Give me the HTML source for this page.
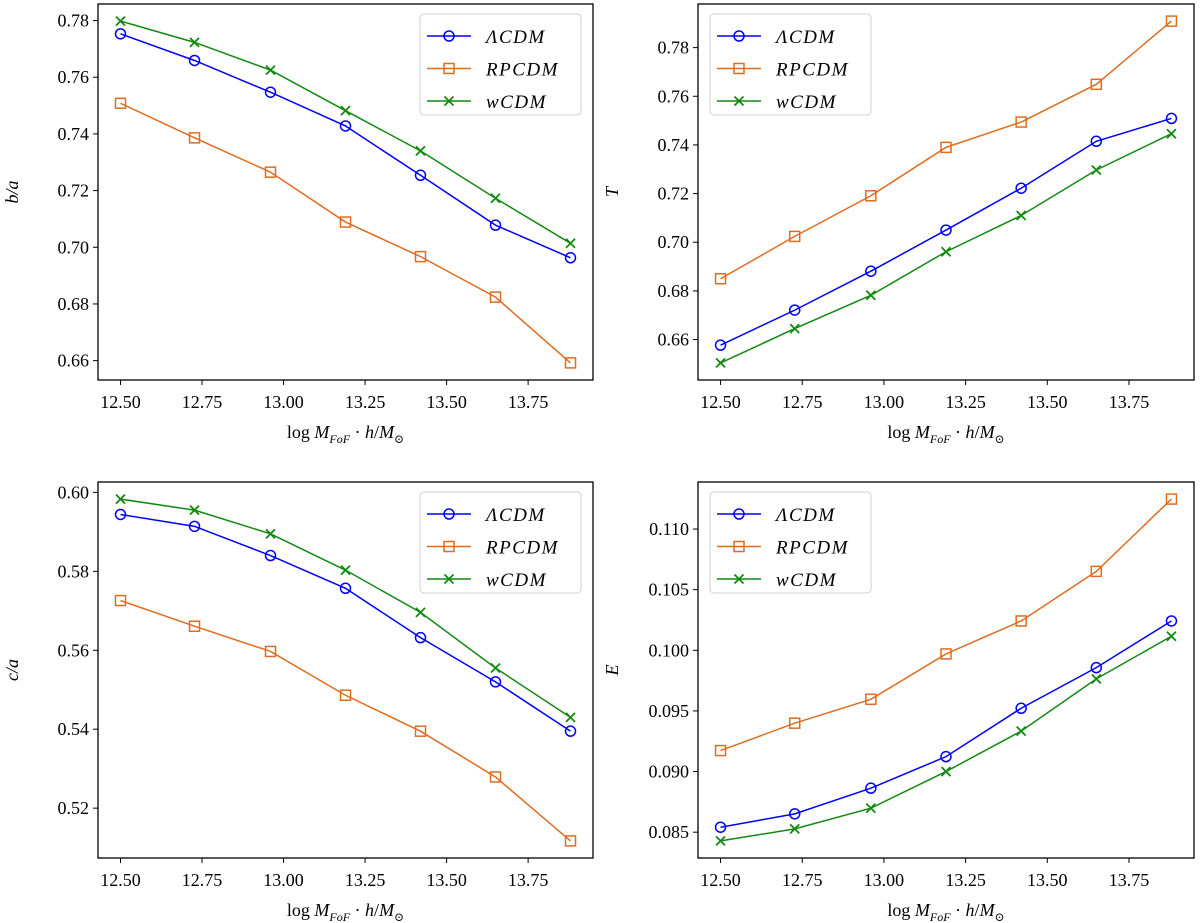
<!DOCTYPE html>
<html><head><meta charset="utf-8"><style>
html,body{margin:0;padding:0;background:#fff;}
svg{display:block;}
text{font-family:"Liberation Serif","DejaVu Serif",serif;fill:#000;}
</style></head><body>
<svg id="fig" width="1200" height="923" viewBox="0 0 1200 923" xmlns="http://www.w3.org/2000/svg"></svg>
<script>
const xValues = [12.5, 12.727, 12.96, 13.19, 13.42, 13.65, 13.88];
const xTicks = [12.5, 12.75, 13.0, 13.25, 13.5, 13.75];
const xTickLabels = ["12.50","12.75","13.00","13.25","13.50","13.75"];
const seriesNames = ["ΛCDM","RPCDM","wCDM"];

const baLCDM = [0.7753,0.7659,0.7547,0.7428,0.7254,0.7078,0.6963];
const baRPCDM = [0.7508,0.7386,0.7265,0.7089,0.6967,0.6824,0.6592];
const baWCDM = [0.7798,0.7723,0.7625,0.7482,0.7340,0.7173,0.7014];
const baTicks = [0.66,0.68,0.70,0.72,0.74,0.76,0.78];
const baTickLabels = ["0.66","0.68","0.70","0.72","0.74","0.76","0.78"];

const tLCDM = [0.6577,0.6721,0.6881,0.7050,0.7222,0.7415,0.7509];
const tRPCDM = [0.6850,0.7024,0.7191,0.7390,0.7494,0.7649,0.7909];
const tWCDM = [0.6504,0.6645,0.6782,0.6961,0.7110,0.7297,0.7446];
const tTicks = [0.66,0.68,0.70,0.72,0.74,0.76,0.78];
const tTickLabels = ["0.66","0.68","0.70","0.72","0.74","0.76","0.78"];

const caLCDM = [0.5944,0.5914,0.5840,0.5757,0.5632,0.5520,0.5395];
const caRPCDM = [0.5726,0.5661,0.5597,0.5486,0.5395,0.5279,0.5117];
const caWCDM = [0.5983,0.5955,0.5895,0.5803,0.5696,0.5555,0.5430];
const caTicks = [0.52,0.54,0.56,0.58,0.60];
const caTickLabels = ["0.52","0.54","0.56","0.58","0.60"];

const eLCDM = [0.08541,0.08651,0.08863,0.09123,0.09522,0.09857,0.10242];
const eRPCDM = [0.09173,0.09399,0.09596,0.09970,0.10242,0.10651,0.11247];
const eWCDM = [0.08428,0.08527,0.08698,0.09000,0.09333,0.09764,0.10116];
const eTicks = [0.085,0.090,0.095,0.100,0.105,0.110];
const eTickLabels = ["0.085","0.090","0.095","0.100","0.105","0.110"];

const NS="http://www.w3.org/2000/svg";
const svg=document.getElementById('fig');
function el(tag,attrs,parent){const e=document.createElementNS(NS,tag);for(const k in attrs)e.setAttribute(k,attrs[k]);(parent||svg).appendChild(e);return e;}
const colors=["#0000ff","#e06c1e","#118a11"];

function marker(g,kind,x,y,c){
  let m;
  if(kind===0){m=el('circle',{cx:x,cy:y,r:5,fill:'none',stroke:c,'stroke-width':1.5},g);}
  else if(kind===1){m=el('rect',{x:x-5,y:y-5,width:10,height:10,fill:'none',stroke:c,'stroke-width':1.5},g);}
  else {m=el('path',{d:`M${x-4.5},${y-4.5}L${x+4.5},${y+4.5}M${x-4.5},${y+4.5}L${x+4.5},${y-4.5}`,stroke:c,'stroke-width':1.8,fill:'none'},g);}
  return m;
}

function panel(o){
  const g=el('g',{});
  
  
  const L=o.x0,R=o.x1,T=o.y0,B=o.y1;
  const xmin=Math.min(...xValues),xmax=Math.max(...xValues),xr=xmax-xmin;
  const xlo=xmin-0.05*xr,xhi=xmax+0.05*xr;
  const all=[].concat(...o.series);
  const ymin=Math.min(...all),ymax=Math.max(...all),yr=ymax-ymin;
  const ylo=ymin-0.05*yr,yhi=ymax+0.05*yr;
  const sx=v=>L+(v-xlo)/(xhi-xlo)*(R-L);
  const sy=v=>B-(v-ylo)/(yhi-ylo)*(B-T);
  xTicks.forEach((t,i)=>{
    const x=sx(t);
    const tk=el('line',{x1:x,y1:B,x2:x,y2:B+5,stroke:'#000','stroke-width':1},g);
    
    
    const lb=el('text',{x:x,y:B+28,'font-size':18,'text-anchor':'middle'},g);
    lb.textContent=xTickLabels[i];
    
    
  });
  o.ticks.forEach((t,i)=>{
    const y=sy(t);
    const tk=el('line',{x1:L-5,y1:y,x2:L,y2:y,stroke:'#000','stroke-width':1},g);
    
    
    const lb=el('text',{x:L-9,y:y+6,'font-size':18,'text-anchor':'end'},g);
    lb.textContent=o.tickLabels[i];
    
    
  });
  o.series.forEach((s,k)=>{
    const sg=el('g',{},g);
    
    
    const pts=s.map((v,i)=>sx(xValues[i]).toFixed(2)+','+sy(v).toFixed(2)).join(' ');
    el('polyline',{points:pts,fill:'none',stroke:colors[k],'stroke-width':1.5},sg);
    s.forEach((v,i)=>{
      const m=marker(sg,k,sx(xValues[i]),sy(v),colors[k]);
      
      
    });
  });
  const fr=el('rect',{x:L,y:T,width:R-L,height:B-T,fill:'none',stroke:'#000','stroke-width':1.3},g);
  
  
  const lx=o.legendLeft?L+12:R-173, ly=T+10;
  const lg=el('g',{},g);
  
  
  el('rect',{x:lx,y:ly,width:161,height:101,rx:4,fill:'#fff','fill-opacity':0.8,stroke:'#d0d0d0','stroke-width':1},lg);
  seriesNames.forEach((n,k)=>{
    const yy=ly+22+k*32.5;
    const eg=el('g',{},lg);
    
    
    el('line',{x1:lx+7,y1:yy,x2:lx+51,y2:yy,stroke:colors[k],'stroke-width':1.5},eg);
    marker(eg,k,lx+29,yy,colors[k]);
    const t=el('text',{x:lx+66,y:yy+7,'font-size':19,'font-style':'italic','letter-spacing':'1.5'},eg);
    t.textContent=n;
  });
  const xl=el('text',{x:(L+R)/2,y:B+58,'font-size':18,'text-anchor':'middle'},g);
  
  
  xl.innerHTML='log <tspan font-style="italic">M</tspan><tspan font-style="italic" font-size="12" dy="5">FoF</tspan><tspan dy="-5"> · </tspan><tspan font-style="italic">h</tspan>/<tspan font-style="italic">M</tspan><tspan font-size="12" dy="5">⊙</tspan>';
  const yl=el('text',{x:0,y:0,'font-size':18,'font-style':'italic','text-anchor':'middle',transform:`translate(${L-80},${(T+B)/2}) rotate(-90)`},g);
  
  
  yl.textContent=o.ylabel;
}

panel({name:'panel-b-over-a',x0:98,x1:593,y0:4,y1:380,series:[baLCDM,baRPCDM,baWCDM],ticks:baTicks,tickLabels:baTickLabels,ylabel:'b/a',legendLeft:false});
panel({name:'panel-triaxiality',x0:698,x1:1194,y0:4,y1:380,series:[tLCDM,tRPCDM,tWCDM],ticks:tTicks,tickLabels:tTickLabels,ylabel:'T',legendLeft:true});
panel({name:'panel-c-over-a',x0:98,x1:593,y0:482,y1:858,series:[caLCDM,caRPCDM,caWCDM],ticks:caTicks,tickLabels:caTickLabels,ylabel:'c/a',legendLeft:false});
panel({name:'panel-ellipticity',x0:698,x1:1194,y0:482,y1:858,series:[eLCDM,eRPCDM,eWCDM],ticks:eTicks,tickLabels:eTickLabels,ylabel:'E',legendLeft:true});
</script>
</body></html>
